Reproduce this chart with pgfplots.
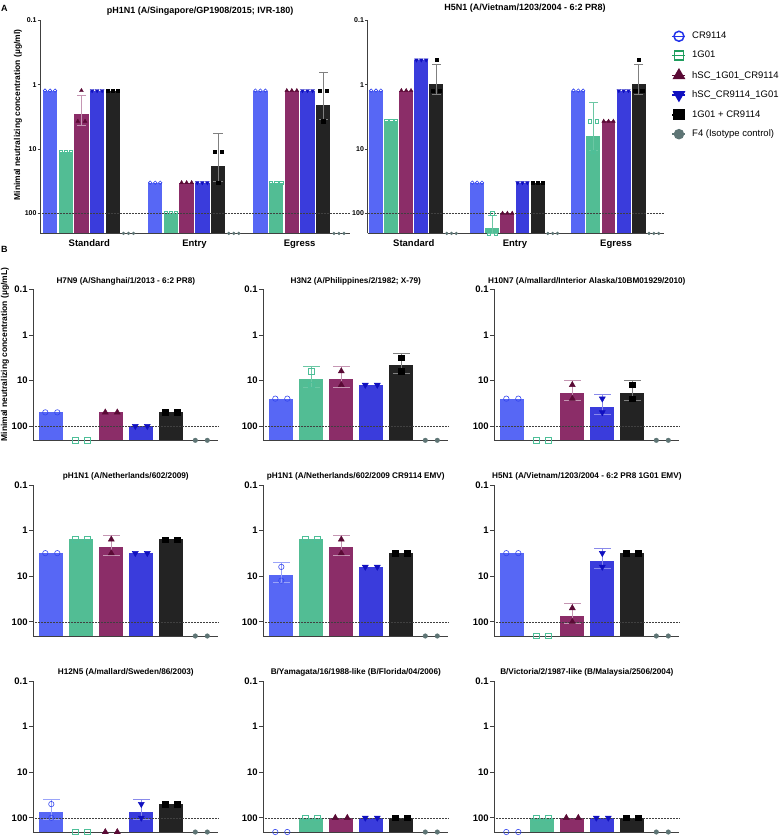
\documentclass[border=0pt]{standalone}
\usepackage{fontspec}
\setmainfont{Liberation Sans}
\usepackage{pgfplots}
\pgfplotsset{compat=1.18}

\definecolor{axc}{HTML}{404040}
\definecolor{crb}{HTML}{5767F5}
\definecolor{crm}{HTML}{3446EE}
\definecolor{gb}{HTML}{52BD94}
\definecolor{gm}{HTML}{4DBF98}
\definecolor{mb}{HTML}{8B2D68}
\definecolor{mm}{HTML}{5A0A35}
\definecolor{bb}{HTML}{3A3CDC}
\definecolor{bm}{HTML}{1010C0}
\definecolor{kb}{HTML}{232323}
\definecolor{km}{HTML}{000000}
\definecolor{fm}{HTML}{5E7575}
\definecolor{lgcr}{HTML}{2233EA}
\definecolor{lgg}{HTML}{1F9E5E}
\colorlet{barc0}{crb}
\colorlet{barc1}{gb}
\colorlet{barc2}{mb}
\colorlet{barc3}{bb}
\colorlet{barc4}{kb}

\newcommand\msz{1.7pt}
\newcommand\capw{4.6pt}
\tikzset{
  pt0/.style={only marks, mark=o, mark size=\msz, mark options={draw=crm, line width=0.6pt}},
  pt1/.style={only marks, mark=square, mark size=\msz, mark options={draw=gm, line width=0.6pt}},
  pt2/.style={only marks, mark=triangle*, mark size=\msz, mark options={draw=mm, fill=mm, scale=1.3}},
  pt3/.style={only marks, mark=triangle*, mark size=\msz, mark options={draw=bm, fill=bm, rotate=180, scale=1.3}},
  pt4/.style={only marks, mark=square*, mark size=\msz, mark options={draw=km, fill=km}},
  pt5/.style={only marks, mark=*, mark size=\msz, mark options={draw=fm, fill=fm, scale=0.85}},
  ebase/.style={line width=0.7pt, mark=-, mark size=\capw, mark options={solid, line width=0.7pt}},
  eb0/.style={ebase, draw=crb!60!white},
  eb1/.style={ebase, draw=gb!85!white},
  eb2/.style={ebase, draw=mb!50!white},
  eb3/.style={ebase, draw=bb!60!white},
  eb4/.style={ebase, draw=black!50},
  refline/.style={densely dotted, line width=0.5pt, draw=black!75},
}

% bar: series, x, value
\newcommand\addbar[3]{\addplot[ybar, bar shift=0pt, draw=none, fill=barc#1] table[row sep=\\, x=x, y expr=1/\thisrow{v}] {x v\\ #2 #3\\};}
% points: series, x, rows "offset value\\"
\newcommand\addpts[3]{\addplot[pt#1] table[row sep=\\, x expr=\thisrow{d}+#2, y expr=1/\thisrow{v}] {d v\\ #3};}
% error bar: series, x, low, high
\newcommand\adderr[4]{\addplot[eb#1] table[row sep=\\, x=x, y expr=1/\thisrow{v}] {x v\\ #2 #3\\ #2 #4\\};}

% panel A helpers (three replicates)
\newcommand\Aeq[3]{\addbar{#1}{#2}{#3}\addpts{#1}{#2}{-0.32 #3\\ 0 #3\\ 0.32 #3\\}}
\newcommand\Ao[2]{\addpts{#1}{#2}{-0.32 205\\ 0 205\\ 0.32 205\\}}
\newcommand\Ad[7]{\addbar{#1}{#2}{#3}\adderr{#1}{#2}{#6}{#7}\addpts{#1}{#2}{-0.23 #4\\ 0 #5\\ 0.23 #4\\}}
% panel B helpers (two replicates)
\newcommand\Bs[2]{\addbar{#1}{#1}{#2}\addpts{#1}{#1}{-0.2 #2\\ 0.2 #2\\}}
\newcommand\Bo[1]{\addpts{#1}{#1}{-0.2 205\\ 0.2 205\\}}
\newcommand\Bd[6]{\addbar{#1}{#1}{#2}\adderr{#1}{#1}{#5}{#6}\addpts{#1}{#1}{0 #3\\ 0 #4\\}}

\newcommand\Bpanel[4]{%
\begin{axis}[scale only axis, anchor=south west, at={(#1)},
  width=185pt, height=151pt, xmin=-0.6, xmax=5.567, bar width=0.8,
  ymode=log, log origin y=infty, ymin=0.004878, ymax=10, clip=false,
  axis x line*=bottom, axis y line*=left,
  axis line style={-, line width=0.8pt, draw=axc},
  ytick={10,1,0.1,0.01}, yticklabels={0.1,1,10,100},
  yminorticks=false, tick align=outside, ytick pos=left,
  y tick style={line width=0.8pt, draw=axc}, major tick length=4pt,
  xtick=\empty,
  yticklabel style={font=\bfseries\fontsize{9.5}{10}\selectfont, inner sep=1.5pt},
  title={#2},
  title style={font=\bfseries\fontsize{8.2}{9}\selectfont, anchor=base, yshift=0.2pt},
  #3]
#4
\addplot[refline] table[row sep=\\, x=x, y expr=1/\thisrow{v}] {x v\\ -0.6 100\\ 5.567 100\\};
\end{axis}}

\begin{document}
\begin{tikzpicture}
\useasboundingbox (0pt,0pt) rectangle (781pt,-837pt);
\node[anchor=west, inner sep=0pt, font=\bfseries\fontsize{9}{10}\selectfont] at (1pt,-8pt) {A};
\node[anchor=west, inner sep=0pt, font=\bfseries\fontsize{9}{10}\selectfont] at (1pt,-249pt) {B};

% ---------- A: pH1N1 ----------
\begin{axis}[scale only axis, anchor=south west, at={(40.3pt,-233.4pt)},
  width=309.6pt, height=213pt, xmin=-0.62, xmax=19.1, bar width=0.92,
  ymode=log, log origin y=infty, ymin=0.004878, ymax=10, clip=false,
  axis x line*=bottom, axis y line*=left,
  axis line style={-, line width=0.8pt, draw=axc},
  ytick={10,1,0.1,0.01}, yticklabels={0.1,1,10,100},
  yminorticks=false, tick align=outside, ytick pos=left,
  y tick style={line width=0.8pt, draw=axc}, major tick length=2.6pt,
  yticklabel style={font=\bfseries\fontsize{7}{8}\selectfont, inner sep=1pt},
  xtick={2.5,9.2,15.9}, xticklabels={Standard,Entry,Egress},
  x tick style={draw=none},
  xticklabel style={font=\bfseries\fontsize{9.5}{10}\selectfont},
  title={pH1N1 (A/Singapore/GP1908/2015; IVR-180)},
  title style={font=\bfseries\fontsize{9}{10}\selectfont, anchor=base, xshift=5pt, yshift=1.2pt},
  ylabel={Minimal neutralizing concentration (µg/ml)},
  ylabel style={font=\bfseries\fontsize{8.5}{9}\selectfont,
    at={(axis description cs:-0.072,0.556)}, anchor=center}]
\Aeq{0}{0}{1.235} \Aeq{0}{6.7}{33.33} \Aeq{0}{13.4}{1.235}
\Aeq{1}{1}{11.11} \Aeq{1}{7.7}{100} \Aeq{1}{14.4}{33.33}
\Ad{2}{2}{2.881}{3.704}{1.235}{1.456}{4.306} \Aeq{2}{8.7}{33.33} \Aeq{2}{15.4}{1.235}
\Aeq{3}{3}{1.235} \Aeq{3}{9.7}{33.33} \Aeq{3}{16.4}{1.235}
\Aeq{4}{4}{1.235} \Ad{4}{10.7}{18.52}{11.11}{33.33}{5.69}{31.35}
\Ad{4}{17.4}{2.058}{1.235}{3.704}{0.633}{3.483}
\Ao{5}{5} \Ao{5}{11.7} \Ao{5}{18.4}
\addplot[refline] table[row sep=\\, x=x, y expr=1/\thisrow{v}] {x v\\ -0.62 100\\ 19.1 100\\};
\end{axis}

% ---------- A: H5N1 ----------
\begin{axis}[scale only axis, anchor=south west, at={(367.7pt,-233.4pt)},
  width=296.7pt, height=213pt, xmin=-0.55, xmax=19.1, bar width=0.92,
  ymode=log, log origin y=infty, ymin=0.004878, ymax=10, clip=false,
  axis x line*=bottom, axis y line*=left,
  axis line style={-, line width=0.8pt, draw=axc},
  ytick={10,1,0.1,0.01}, yticklabels={0.1,1,10,100},
  yminorticks=false, tick align=outside, ytick pos=left,
  y tick style={line width=0.8pt, draw=axc}, major tick length=2.6pt,
  yticklabel style={font=\bfseries\fontsize{7}{8}\selectfont, inner sep=1pt},
  xtick={2.5,9.2,15.9}, xticklabels={Standard,Entry,Egress},
  x tick style={draw=none},
  xticklabel style={font=\bfseries\fontsize{9.5}{10}\selectfont},
  title={H5N1 (A/Vietnam/1203/2004 - 6:2 PR8)},
  title style={font=\bfseries\fontsize{9}{10}\selectfont, anchor=base, xshift=9pt, yshift=4pt}]
\Aeq{0}{0}{1.235} \Aeq{0}{6.7}{33.33} \Aeq{0}{13.4}{1.235}
\Aeq{1}{1}{3.704} \Ad{1}{7.7}{166.7}{205}{100}{109}{205}
\Ad{1}{14.4}{6.173}{3.704}{11.11}{1.896}{10.45}
\Aeq{2}{2}{1.235} \Aeq{2}{8.7}{100} \Aeq{2}{15.4}{3.704}
\Aeq{3}{3}{0.4115} \Aeq{3}{9.7}{33.33} \Aeq{3}{16.4}{1.235}
\Ad{4}{4}{0.9605}{1.235}{0.4115}{0.485}{1.436} \Aeq{4}{10.7}{33.33}
\Ad{4}{17.4}{0.9605}{1.235}{0.4115}{0.485}{1.436}
\Ao{5}{5} \Ao{5}{11.7} \Ao{5}{18.4}
\addplot[refline] table[row sep=\\, x=x, y expr=1/\thisrow{v}] {x v\\ -0.55 100\\ 19.1 100\\};
\end{axis}

% ---------- legend ----------
\begin{axis}[hide axis, scale only axis, anchor=south west, at={(671.5pt,-233.4pt)},
  width=100pt, height=213pt, xmin=0, xmax=1, ymin=0, ymax=1,
  legend style={at={(axis description cs:0,1)}, anchor=north west, yshift=-10.6pt,
    draw=none, fill=none, inner sep=0pt, row sep=9pt,
    font=\fontsize{9.5}{10}\selectfont, cells={anchor=west},
    nodes={inner sep=1pt},
    /tikz/every odd column/.append style={column sep=5pt}},
  legend image code/.code={\draw[mark repeat=2, mark phase=2]
    plot coordinates {(0pt,0pt)(6.5pt,0pt)(13pt,0pt)};}]
\addlegendimage{draw=lgcr, line width=1.5pt, mark=o, mark size=5pt}
\addlegendentry{CR9114}
\addlegendimage{draw=lgg, line width=1.5pt, mark=square, mark size=4.6pt}
\addlegendentry{1G01}
\addlegendimage{draw=mm, line width=1.5pt, mark=triangle*, mark size=6pt, mark options={fill=mm}}
\addlegendentry{hSC\_1G01\_CR9114}
\addlegendimage{draw=bm, line width=1.5pt, mark=triangle*, mark size=6pt, mark options={fill=bm, rotate=180}}
\addlegendentry{hSC\_CR9114\_1G01}
\addlegendimage{draw=black, line width=1.5pt, mark=square*, mark size=4.8pt, mark options={fill=black}}
\addlegendentry{1G01 + CR9114}
\addlegendimage{draw=fm, line width=1.5pt, mark=*, mark size=4.5pt, mark options={fill=fm}}
\addlegendentry{F4 (Isotype control)}
\end{axis}

% ---------- B ----------
\renewcommand\msz{2.7pt}
\renewcommand\capw{8.5pt}
\Bpanel{33.3pt,-440.3pt}{H7N9 (A/Shanghai/1/2013 - 6:2 PR8)}{
  ylabel={Minimal neutralizing concentration (µg/mL)},
  ylabel style={font=\bfseries\fontsize{8.5}{9}\selectfont,
    at={(axis description cs:-0.153,0.568)}, anchor=center}}{
\Bs{0}{50} \Bo{1} \Bs{2}{50} \Bs{3}{100} \Bs{4}{50} \Bo{5}}

\Bpanel{263.3pt,-440.3pt}{H3N2 (A/Philippines/2/1982; X-79)}{}{
\Bs{0}{25} \Bd{1}{9.375}{6.25}{12.5}{4.956}{13.79}
\Bd{2}{9.375}{6.25}{12.5}{4.956}{13.79} \Bs{3}{12.5}
\Bd{4}{4.688}{3.125}{6.25}{2.478}{6.897} \Bo{5}}

\Bpanel{494.3pt,-440.3pt}{H10N7 (A/mallard/Interior Alaska/10BM01929/2010)}{}{
\Bs{0}{25} \Bo{1} \Bd{2}{18.75}{12.5}{25}{9.911}{27.59}
\Bd{3}{37.5}{25}{50}{19.82}{55.18} \Bd{4}{18.75}{12.5}{25}{9.911}{27.59} \Bo{5}}

\Bpanel{33.3pt,-636pt}{pH1N1 (A/Netherlands/602/2009)}{}{
\Bs{0}{3.125} \Bs{1}{1.563} \Bd{2}{2.344}{1.563}{3.125}{1.239}{3.449}
\Bs{3}{3.125} \Bs{4}{1.563} \Bo{5}}

\Bpanel{263.3pt,-636pt}{pH1N1 (A/Netherlands/602/2009 CR9114 EMV)}{}{
\Bd{0}{9.375}{6.25}{12.5}{4.956}{13.79} \Bs{1}{1.563}
\Bd{2}{2.344}{1.563}{3.125}{1.239}{3.449} \Bs{3}{6.25} \Bs{4}{3.125} \Bo{5}}

\Bpanel{494.3pt,-636pt}{H5N1 (A/Vietnam/1203/2004 - 6:2 PR8 1G01 EMV)}{}{
\Bs{0}{3.125} \Bo{1} \Bd{2}{75}{50}{100}{39.64}{110.4}
\Bd{3}{4.688}{3.125}{6.25}{2.478}{6.897} \Bs{4}{3.125} \Bo{5}}

\Bpanel{33.3pt,-832pt}{H12N5 (A/mallard/Sweden/86/2003)}{}{
\Bd{0}{75}{50}{100}{39.64}{110.4} \Bo{1} \Bo{2}
\Bd{3}{75}{50}{100}{39.64}{110.4} \Bs{4}{50} \Bo{5}}

\Bpanel{263.3pt,-832pt}{B/Yamagata/16/1988-like (B/Florida/04/2006)}{}{
\Bo{0} \Bs{1}{100} \Bs{2}{100} \Bs{3}{100} \Bs{4}{100} \Bo{5}}

\Bpanel{494.3pt,-832pt}{B/Victoria/2/1987-like (B/Malaysia/2506/2004)}{}{
\Bo{0} \Bs{1}{100} \Bs{2}{100} \Bs{3}{100} \Bs{4}{100} \Bo{5}}

\end{tikzpicture}
\end{document}
